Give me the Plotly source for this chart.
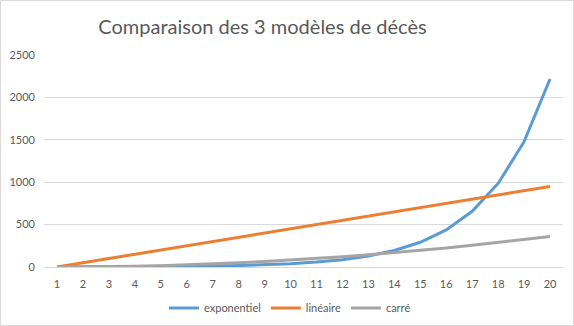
import plotly.graph_objects as go

# Day index 1..20 and the three death models
jours = list(range(1, 21))
exponentiel = [1, 1.5, 2.25, 3.4, 5.1, 7.6, 11.4, 17.1, 25.6, 38.4,
               57.7, 86.5, 129.7, 194.6, 291.9, 437.9, 656.8, 985.3, 1477.9, 2216.8]
lineaire = [0, 50, 100, 150, 200, 250, 300, 350, 400, 450,
            500, 550, 600, 650, 700, 750, 800, 850, 900, 950]
carre = [0, 1, 4, 9, 16, 25, 36, 49, 64, 81,
         100, 121, 144, 169, 196, 225, 256, 289, 324, 361]
y_ticks = [0, 500, 1000, 1500, 2000, 2500]

W, H = 574, 326
L, R, T, B = 44, 11, 55, 59
FONT = "Lato, 'Open Sans', sans-serif"
TXT = "#595959"

fig = go.Figure()
for name, vals, col in [("exponentiel", exponentiel, "#5B9BD5"),
                        ("linéaire", lineaire, "#ED7D31"),
                        ("carré", carre, "#A5A5A5")]:
    fig.add_trace(go.Scatter(x=jours, y=vals, name=name, mode="lines",
                             line=dict(color=col, width=3)))

pw = W - L - R
ph = H - T - B
fig.update_layout(
    width=W, height=H,
    margin=dict(l=L, r=R, t=T, b=B, autoexpand=False),
    paper_bgcolor="white", plot_bgcolor="white",
    font=dict(family=FONT, color=TXT, size=11),
    title=dict(text="Comparaison des 3 modèles de décès", xref="container",
               x=262.5 / W, xanchor="center",
               yref="container", y=1 - 27 / H, yanchor="middle",
               font=dict(family=FONT, size=20, color=TXT)),
    xaxis=dict(range=[0.5, 20.5], tickmode="array", tickvals=jours,
               ticktext=[str(j) for j in jours], showgrid=False, zeroline=False,
               showline=False, ticks="", tickfont=dict(size=11, color=TXT),
               ticklabelstandoff=9, fixedrange=True),
    yaxis=dict(range=[0, 2500], tickvals=y_ticks, showgrid=True, gridcolor="#D9D9D9",
               gridwidth=1, zeroline=True, zerolinecolor="#D9D9D9", zerolinewidth=1,
               showline=False, ticks="", tickfont=dict(size=11, color=TXT),
               ticklabelstandoff=8, fixedrange=True),
    legend=dict(orientation="h", xref="container", x=290 / W, xanchor="center",
                yref="container", y=1 - 308 / H, yanchor="middle",
                font=dict(size=11, color=TXT), itemwidth=30, bgcolor="rgba(0,0,0,0)"),
    showlegend=True,
)

# Light chart-area border
fig.add_shape(type="rect", xref="paper", yref="paper",
              x0=(0.5 - L) / pw, x1=(W - 0.5 - L) / pw,
              y0=-(B - 0.5) / ph, y1=1 + (T - 0.5) / ph,
              line=dict(color="#D9D9D9", width=1), layer="below")

fig.write_html("out.html")
